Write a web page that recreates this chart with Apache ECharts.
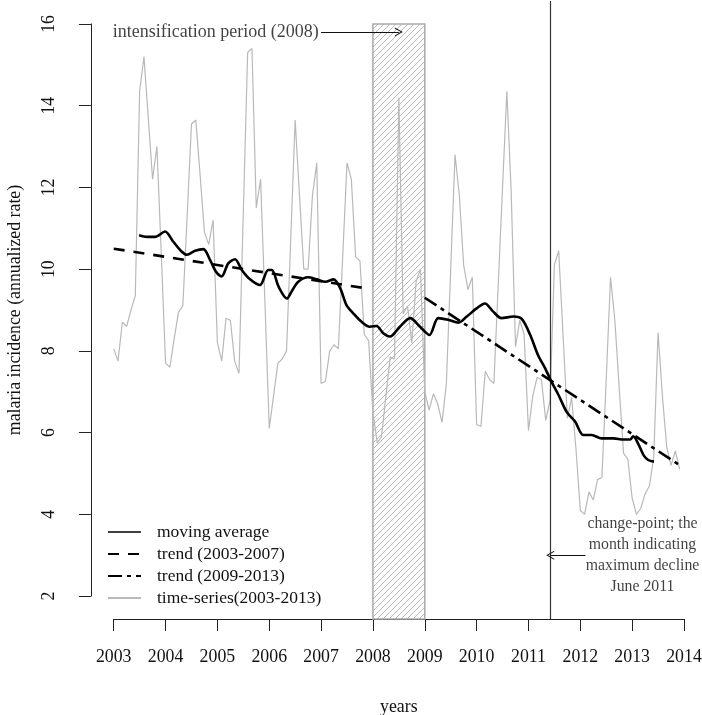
<!DOCTYPE html>
<html><head><meta charset="utf-8">
<script src="https://cdn.jsdelivr.net/npm/echarts@6/dist/echarts.min.js"></script>
<style>html,body{margin:0;padding:0;background:#fff}#c{width:702px;height:715px}</style>
</head><body><div id="c"></div>
<script>
// ---------------- data ----------------
const tsStartYear = 2003;          // monthly series, January 2003 .. December 2013
const tsValues = [
  8.05, 7.75, 8.7, 8.6, 9.0, 9.35, 14.35, 15.2, 13.7, 12.2, 13.0, 10.4,
  7.7, 7.6, 8.3, 8.95, 9.1, 11.3, 13.55, 13.65, 12.3, 10.9, 10.6, 11.2,
  8.2, 7.75, 8.8, 8.75, 7.75, 7.45, 11.4, 15.3, 15.4, 11.5, 12.2, 9.2,
  6.1, 6.9, 7.7, 7.8, 8.0, 10.8, 13.65, 11.8, 10.0, 10.0, 11.8, 12.6,
  7.2, 7.25, 8.0, 8.15, 8.05, 10.3, 12.6, 12.2, 10.3, 10.2, 8.4, 8.25,
  6.5, 5.75, 5.9, 6.9, 7.85, 7.8, 14.2, 8.9, 9.1, 8.2, 9.7, 10.0,
  7.0, 6.55, 6.95, 6.7, 6.25, 7.2, 10.0, 12.8, 11.8, 10.1, 9.5, 9.8,
  6.2, 6.15, 7.5, 7.3, 7.2, 9.6, 12.0, 14.35, 11.9, 8.1, 8.75, 8.4,
  6.05, 6.9, 7.35, 7.3, 6.3, 6.8, 10.1, 10.45, 8.4, 6.35, 6.85, 5.6,
  4.1, 4.0, 4.55, 4.35, 4.85, 4.9, 7.3, 9.8, 8.75, 7.1, 5.5, 5.35,
  4.4, 4.0, 4.15, 4.5, 4.7, 5.4, 8.45, 6.9, 5.65, 5.2, 5.55, 5.1
];
const movingAverage = [
  [2003.49,10.83],[2003.64,10.79],[2003.80,10.79],[2003.99,10.92],[2004.15,10.67],[2004.31,10.43],
  [2004.41,10.35],[2004.57,10.45],[2004.73,10.49],[2004.86,10.22],[2004.97,9.94],[2005.08,9.82],
  [2005.21,10.14],[2005.34,10.24],[2005.47,9.98],[2005.63,9.75],[2005.82,9.61],[2005.98,9.98],
  [2006.05,9.98],[2006.18,9.57],[2006.34,9.28],[2006.43,9.45],[2006.56,9.69],[2006.75,9.80],
  [2006.92,9.75],[2007.08,9.69],[2007.24,9.75],[2007.37,9.53],[2007.49,9.12],[2007.62,8.92],
  [2007.78,8.71],[2007.94,8.59],[2008.07,8.61],[2008.20,8.43],[2008.33,8.35],[2008.52,8.59],
  [2008.72,8.80],[2008.91,8.59],[2009.09,8.39],[2009.26,8.80],[2009.45,8.76],[2009.65,8.69],
  [2009.81,8.84],[2010.00,9.04],[2010.16,9.16],[2010.32,8.96],[2010.48,8.80],[2010.71,8.84],
  [2010.87,8.78],[2011.03,8.40],[2011.19,7.88],[2011.32,7.58],[2011.43,7.28],[2011.58,6.92],
  [2011.74,6.50],[2011.90,6.27],[2012.06,5.94],[2012.22,5.94],[2012.41,5.86],[2012.64,5.86],
  [2012.83,5.83],[2012.96,5.83],[2013.02,5.91],[2013.12,5.72],[2013.22,5.45],[2013.31,5.33],
  [2013.42,5.29]
];
const trend2003_2007 = [[2003.0, 10.5], [2007.92, 9.52]];
const trend2009_2013 = [[2009.0, 9.3], [2013.92, 5.2]];
const intensificationPeriod = [2008, 2009];   // x extent of hatched box
const intensificationTop = 16;
const changePointYear = 2011.42;                // June 2011
const xTicks = [2003, 2014, 1];                 // min, max, step
const yTicks = [2, 16, 2];
const seriesNames = ['moving average', 'trend (2003-2007)', 'trend (2009-2013)', 'time-series(2003-2013)'];
const labelTexts = {
  x: 'years',
  y: 'malaria incidence (annualized rate)',
  intens: 'intensification period (2008)',
  change: 'change-point; the\nmonth indicating\nmaximum decline\nJune 2011'
};
const intensLabelPos = [2004.97, 15.8];
const intensArrow = [[2007, 15.8], [2008.5, 15.8]];
const changeLabelPos = [2013.2, 3.0];
const changeArrow = [[2012.1, 3.0], [2011.42, 3.0]];

// ---------------- layout ----------------
const W = 702, H = 715;
const plotBox = {left: 90.9, top: 1, right: 706.8, bottom: 619};   // R plot region (4% padding)
const pad = 0.04;
const xr = xTicks[1] - xTicks[0], yr = yTicks[1] - yTicks[0];
const xMin = xTicks[0] - pad * xr, xMax = xTicks[1] + pad * xr;
const yMin = yTicks[0] - pad * yr, yMax = yTicks[1] + pad * yr;
const pw = plotBox.right - plotBox.left, ph = plotBox.bottom - plotBox.top;
const xPad = pad * xr / (xMax - xMin) * pw, yPad = pad * yr / (yMax - yMin) * ph;

const FONT = '"Liberation Serif", "Times New Roman", serif';
const FS = 17.8;

// hatch pattern
const tile = document.createElement('canvas');
tile.width = 6; tile.height = 6;
(function () {
  const c = tile.getContext('2d');
  c.strokeStyle = '#ababab'; c.lineWidth = 0.85;
  c.beginPath();
  c.moveTo(-1, 7); c.lineTo(7, -1);
  c.moveTo(-4, 4); c.lineTo(4, -4);
  c.moveTo(2, 10); c.lineTo(10, 2);
  c.stroke();
})();

const arrowHead = 'path://M5,0 L10,10 L8.8,10 L5,2.4 L1.2,10 L0,10 Z';

const tsData = tsValues.map((v, i) => [tsStartYear + i / 12, v]);

const chart = echarts.init(document.getElementById('c'), null, {renderer: 'canvas'});
chart.setOption({
  animation: false,
  backgroundColor: '#fff',
  textStyle: {fontFamily: FONT, color: '#000'},
  grid: [
    {left: plotBox.left, top: plotBox.top, width: pw, height: ph, containLabel: false, outerBoundsMode: 'none'},
    {left: plotBox.left + xPad, top: plotBox.top + yPad, width: pw - 2 * xPad, height: ph - 2 * yPad, containLabel: false, outerBoundsMode: 'none'}
  ],
  xAxis: [
    {gridIndex: 0, type: 'value', min: xMin, max: xMax, show: false},
    {gridIndex: 1, type: 'value', min: xTicks[0], max: xTicks[1], interval: xTicks[2],
     offset: yPad, position: 'bottom',
     axisLine: {show: true, lineStyle: {color: '#222', width: 1}},
     axisTick: {show: true, length: 12, lineStyle: {color: '#222', width: 1}},
     splitLine: {show: false},
     axisLabel: {show: true, margin: 28, fontSize: FS, fontFamily: FONT, color: '#111', formatter: v => String(v), lineHeight: 20},
     name: labelTexts.x, nameLocation: 'middle', nameGap: 79,
     nameTextStyle: {fontSize: FS, fontFamily: FONT, color: '#111'}}
  ],
  yAxis: [
    {gridIndex: 0, type: 'value', min: yMin, max: yMax, show: false},
    {gridIndex: 1, type: 'value', min: yTicks[0], max: yTicks[1], interval: yTicks[2],
     offset: xPad, position: 'left',
     axisLine: {show: true, lineStyle: {color: '#222', width: 1}},
     axisTick: {show: true, length: 12, lineStyle: {color: '#222', width: 1}},
     splitLine: {show: false},
     axisLabel: {show: true, rotate: 90, margin: 33, fontSize: FS, fontFamily: FONT, color: '#111', formatter: v => String(v)},
     name: labelTexts.y, nameLocation: 'middle', nameGap: 67, nameRotate: 90,
     nameTextStyle: {fontSize: FS, fontFamily: FONT, color: '#111'}}
  ],
  legend: {
    orient: 'vertical', left: 107, top: 522, padding: 0,
    itemWidth: 33, itemHeight: 14, itemGap: 2,
    itemStyle: {opacity: 0},
    textStyle: {fontSize: 17.5, fontFamily: FONT, color: '#111', lineHeight: 20, padding: [0, 0, 0, 11]},
    data: [
      {name: seriesNames[0], lineStyle: {width: 1.3}},
      {name: seriesNames[1]},
      {name: seriesNames[2]},
      {name: seriesNames[3]}
    ]
  },
  series: [
    {
      name: seriesNames[3], type: 'line', xAxisIndex: 0, yAxisIndex: 0,
      data: tsData, symbol: 'none', lineStyle: {color: '#b9b9b9', width: 1.2}, itemStyle: {color: '#b9b9b9'},
      z: 2,
      markArea: {
        silent: true,
        itemStyle: {color: {image: tile, repeat: 'repeat'}, borderColor: '#aaaaaa', borderWidth: 1.5},
        data: [[{xAxis: intensificationPeriod[0], yAxis: intensificationTop}, {xAxis: intensificationPeriod[1], yAxis: yMin}]]
      },
      markLine: {
        silent: true, symbol: 'none', label: {show: false},
        lineStyle: {color: '#333', width: 1.2, type: 'solid'},
        data: [{xAxis: changePointYear}]
      }
    },
    {
      name: seriesNames[1], type: 'line', xAxisIndex: 0, yAxisIndex: 0,
      data: trend2003_2007, symbol: 'none', z: 4,
      lineStyle: {color: '#000', width: 2.6, type: [11, 9]}, itemStyle: {color: '#000'}
    },
    {
      name: seriesNames[2], type: 'line', xAxisIndex: 0, yAxisIndex: 0,
      data: trend2009_2013, symbol: 'none', z: 4,
      lineStyle: {color: '#000', width: 2.6, type: [14, 5, 4, 5]}, itemStyle: {color: '#000'}
    },
    {
      name: seriesNames[0], type: 'line', xAxisIndex: 0, yAxisIndex: 0,
      data: movingAverage, symbol: 'none', smooth: 0.3, z: 5,
      lineStyle: {color: '#000', width: 2.6}, itemStyle: {color: '#000'}
    },
    {
      name: 'annotations', type: 'scatter', xAxisIndex: 0, yAxisIndex: 0, z: 6,
      symbolSize: 1, itemStyle: {color: 'rgba(0,0,0,0)'}, silent: true,
      data: [
        {value: intensLabelPos, label: {show: true, position: 'inside', formatter: labelTexts.intens,
          fontSize: 18, fontFamily: FONT, color: '#111', align: 'center', verticalAlign: 'middle'}},
        {value: changeLabelPos, label: {show: true, position: 'inside', formatter: labelTexts.change,
          fontSize: 15.8, lineHeight: 21, fontFamily: FONT, color: '#111', align: 'center', verticalAlign: 'middle'}}
      ],
      markLine: {
        silent: true, label: {show: false},
        symbol: ['none', arrowHead], symbolSize: [9, 8],
        lineStyle: {color: '#111', width: 1, type: 'solid'},
        data: [
          [{coord: intensArrow[0]}, {coord: intensArrow[1]}],
          [{coord: changeArrow[0]}, {coord: changeArrow[1]}]
        ]
      }
    }
  ]
});
</script>
</body></html>
